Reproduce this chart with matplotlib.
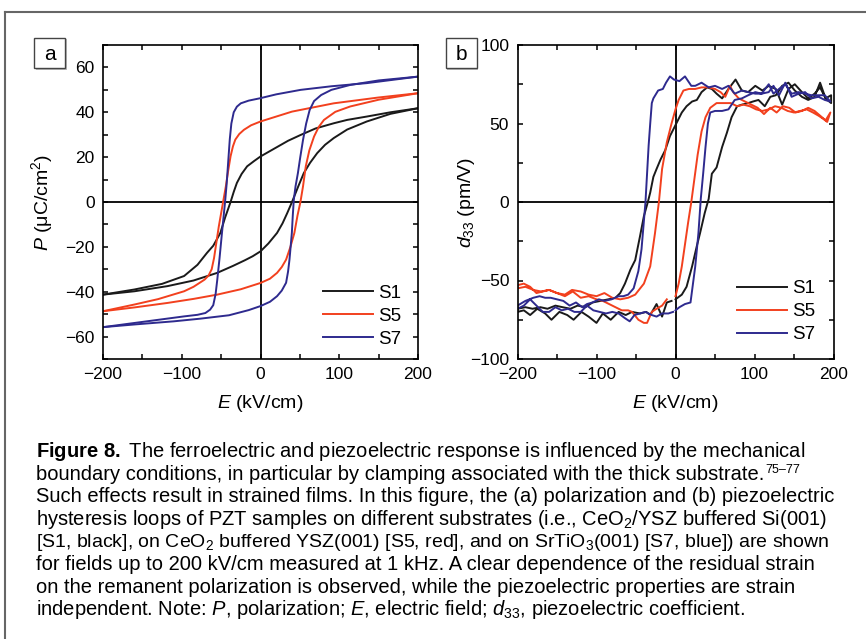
import matplotlib
matplotlib.use('Agg')
import matplotlib.pyplot as plt
from matplotlib.ticker import MultipleLocator
from matplotlib.lines import Line2D
from matplotlib.patches import Rectangle

plt.rcParams['font.family'] = ['Liberation Sans', 'DejaVu Sans']
plt.rcParams['mathtext.fontset'] = 'custom'
plt.rcParams['mathtext.rm'] = 'Liberation Sans'
plt.rcParams['mathtext.it'] = 'Liberation Sans:italic'
plt.rcParams['mathtext.bf'] = 'Liberation Sans:bold'

# ---------------- data: panel a (P-E loops) ----------------
samples = ['S1', 'S5', 'S7']
colors = ['#1a1a1a', '#f2401e', '#2e2a8e']

# upper branch (E sweeping +200 -> -200)
s1_up_E = [200, 165, 135, 110, 93, 70, 51, 35, 20, 10, 0, -8, -17, -24, -30, -34, -38, -42, -45, -51, -56, -60, -68, -80, -97, -125, -160, -200]
s1_up_P = [41.8, 40.0, 38.1, 36.6, 35.1, 32.8, 29.9, 27.3, 24.3, 22.3, 20.3, 18.3, 15.9, 12.5, 8.5, 4.5, 0, -4, -7, -13.8, -17, -19.5, -22.7, -28, -33, -36.5, -39, -41.3]
# lower branch (E sweeping -200 -> +200)
s1_lo_E = [-200, -160, -118, -85, -55, -35, -20, -10, 0, 10, 21, 28, 34, 40, 48, 55, 63, 72, 82, 93, 110, 135, 165, 200]
s1_lo_P = [-41.3, -39.8, -37.5, -35, -31.6, -28.5, -26, -24.2, -22, -18.5, -13.8, -9.5, -4.9, 0, 7, 12.9, 17.5, 21.8, 25.5, 28.5, 32.3, 35.9, 39.3, 41.8]

s5_up_E = [200, 150, 93, 40, 0, -12, -21, -27, -32, -35, -38, -41, -44, -47, -50, -53, -56, -59, -62, -66, -71, -85, -97, -130, -160, -200]
s5_up_P = [48.5, 46.6, 44, 40.3, 35.9, 34.2, 32.2, 30.3, 27.8, 24.8, 20.4, 14, 7, 1, -5, -11, -18, -25, -30, -32.8, -34.6, -37.8, -39.8, -43.3, -45.7, -48.7]
s5_lo_E = [-200, -160, -118, -85, -55, -25, 0, 12, 21, 27, 32.5, 38, 43, 47, 50.7, 54, 57.5, 62, 68, 74, 80.6, 95, 114, 150, 200]
s5_lo_P = [-48.7, -47.0, -45, -43.2, -41.3, -38.9, -36.1, -34.2, -31.6, -29, -25.7, -20, -13.8, -6, 0, 7, 15.9, 23, 29.2, 33.5, 36.6, 40.2, 42.6, 45.6, 48.5]

s7_up_E = [200, 135, 90, 51, 20, 0, -15, -25, -30, -34, -37, -39, -41, -43, -45, -47, -49, -52, -55, -57, -60, -64, -70, -80, -97, -140, -200]
s7_up_P = [55.9, 53, 51.6, 50, 48, 46.3, 45.2, 44, 42.5, 40, 35, 28, 18, 8, 0, -7, -14, -25, -35, -41, -46, -48, -49.5, -50.3, -51, -53, -55.8]
s7_lo_E = [-200, -160, -110, -76, -40, -15, 0, 12, 21, 27, 32.5, 35, 36.8, 38.5, 39.8, 41, 42.3, 44.5, 47.5, 50.5, 54, 58, 62.4, 68, 77, 90, 114, 150, 200]
s7_lo_P = [-55.8, -54.6, -53.2, -52, -50.5, -48.2, -46.4, -44.5, -42, -39.5, -36, -31, -25.7, -19, -13.8, -6, 1, 7, 12.9, 20, 27.7, 35, 41, 45, 47.7, 50, 52.2, 54.2, 55.9]

pe_E_up = [s1_up_E, s5_up_E, s7_up_E]
pe_P_up = [s1_up_P, s5_up_P, s7_up_P]
pe_E_lo = [s1_lo_E, s5_lo_E, s7_lo_E]
pe_P_lo = [s1_lo_P, s5_lo_P, s7_lo_P]

# ---------------- data: panel b (d33-E loops) ----------------
# sweep order: 0 -> +200 -> -200 -> ~0
s1_d_E = [0, 8, 14, 21, 27, 31, 37, 42, 46, 52, 59, 65, 71, 78, 84, 92, 98, 105, 113, 120, 127, 135, 143, 151, 160, 168, 176, 183, 190, 197,
          197, 190, 183, 176, 168, 160, 151, 143, 135, 127, 118, 110, 101, 92, 84, 76, 67, 59, 52, 46, 40, 33, 27, 21, 14, 8, 4, 0,
          -7, -13, -19, -24, -28, -32, -35, -40, -45, -51, -57, -64, -70, -76, -85, -95, -105, -114, -124, -133, -143, -152, -162, -171, -181, -190, -200,
          -200, -192, -184, -175, -165, -157, -147, -137, -129, -119, -110, -100, -92, -82, -72, -63, -55, -45, -37, -32, -24, -17, -11, -5]
s1_d_V = [-62, -59, -54, -41, -28, -20, -7, 2, 18, 22, 35, 44, 54, 61, 62, 63, 64, 65, 61, 67, 68, 74, 76, 71, 67, 65, 67, 76, 66, 68,
          63, 66, 73, 69, 66, 70, 75, 72, 62, 72, 74, 71, 74, 70, 71, 78, 72, 66, 69, 72, 73, 70, 65, 64, 61, 57, 53, 49,
          42, 33, 27, 21, 16, 6, 0, -9, -22, -37, -43, -52, -58, -61, -62, -63, -64, -67, -66, -68, -67, -66, -68, -67, -68, -67, -68,
          -70, -69, -72, -68, -71, -75, -70, -72, -75, -70, -73, -77, -71, -75, -70, -72, -70, -71, -70, -72, -65, -73, -64, -63]

s5_d_E = [0, 4, 8, 12, 16, 20, 24, 28, 33, 38, 44, 52, 62, 70, 78, 86, 94, 102, 110, 118, 126, 134, 142, 150, 158, 166, 174, 181, 187, 192, 196,
          190, 183, 176, 168, 160, 152, 144, 136, 128, 120, 112, 104, 96, 88, 80, 73, 69, 63, 57, 50, 42, 33, 25, 17, 10, 4, 0,
          -5, -11, -17, -21, -26, -32, -40, -51, -60, -70, -80, -90, -100, -110, -120, -131, -140, -150, -160, -170, -180, -190, -200,
          -200, -192, -184, -176, -168, -160, -150, -140, -130, -120, -110, -100, -92, -84, -76, -68, -60, -55, -47, -40, -36, -30, -24, -17, -11]
s5_d_V = [-60, -52, -41, -27, -13, 0, 15, 30, 45, 54, 60, 63, 63, 63, 61, 62, 61, 59, 58, 59, 61, 60, 58, 57, 58, 59, 57, 55, 53, 51, 57,
          52, 55, 58, 60, 58, 57, 60, 61, 57, 60, 56, 60, 62, 64, 66, 70, 74, 67, 70, 72, 73, 73, 72, 72, 71, 65, 59,
          50, 38, 21, 0, -20, -41, -52, -59, -61, -62, -61, -58, -60, -59, -57, -56, -59, -58, -56, -57, -56, -54, -55,
          -53, -52, -54, -58, -57, -56, -58, -60, -57, -61, -60, -62, -63, -65, -67, -69, -69, -70, -75, -77, -77, -70, -68, -66, -62]

s7_d_E = [0, 5, 12, 19, 25, 29, 32, 35, 38, 41, 44, 50, 59, 67, 75, 84, 92, 101, 109, 118, 124, 131, 139, 147, 156, 164, 172, 181, 189, 196,
          189, 181, 172, 164, 156, 147, 139, 131, 124, 118, 109, 101, 92, 84, 75, 67, 59, 50, 42, 33, 25, 20, 12, 5, -2, -7, -12, -16, -22, -28,
          -30, -32, -34, -36, -38, -43, -47, -53, -60, -66, -72, -81, -90, -97, -105, -112, -118, -126, -134, -142, -150, -158, -165, -172, -180, -190, -200,
          -200, -192, -184, -176, -168, -160, -152, -144, -136, -128, -120, -112, -104, -96, -88, -80, -72, -64, -58, -52, -45, -38, -30, -24, -17, -9, -3]
s7_d_V = [-69, -67, -65, -64, -41, -20, 2, 18, 35, 50, 57, 58, 58, 59, 65, 66, 68, 70, 69, 75, 69, 72, 75, 69, 70, 69, 68, 68, 68, 64,
          65, 67, 66, 70, 69, 67, 76, 68, 74, 70, 69, 69, 70, 71, 69, 74, 72, 74, 73, 76, 74, 74, 80, 77, 78, 80, 76, 72, 71, 66,
          63, 50, 36, 18, 0, -30, -44, -55, -59, -60, -60, -62, -63, -62, -64, -65, -67, -64, -66, -63, -62, -61, -61, -60, -61, -63, -66,
          -68, -66, -62, -66, -70, -70, -67, -69, -68, -70, -70, -66, -69, -70, -71, -70, -71, -74, -76, -72, -71, -70, -72, -73, -71, -71, -70]

d_E = [s1_d_E, s5_d_E, s7_d_E]
d_V = [s1_d_V, s5_d_V, s7_d_V]

caption_lines = [
    r"$\mathbf{Figure\ 8.}$ The ferroelectric and piezoelectric response is influenced by the mechanical",
    "boundary conditions, in particular by clamping associated with the thick substrate.",
    "Such effects result in strained films. In this figure, the (a) polarization and (b) piezoelectric",
    r"hysteresis loops of PZT samples on different substrates (i.e., CeO$_{2}$/YSZ buffered Si(001)",
    r"[S1, black], on CeO$_{2}$ buffered YSZ(001) [S5, red], and on SrTiO$_{3}$(001) [S7, blue]) are shown",
    "for fields up to 200 kV/cm measured at 1 kHz. A clear dependence of the residual strain",
    "on the remanent polarization is observed, while the piezoelectric properties are strain",
    r"independent. Note: $\mathit{P}$, polarization; $\mathit{E}$, electric field; $\mathit{d}_{33}$, piezoelectric coefficient.",
]
caption_sizes = [14.5, 14.5, 14.5, 14.5, 14.0, 14.5, 14.5, 14.5]
ref_superscript = "75–77"

# ---------------- figure ----------------
W, H = 866, 639
fig = plt.figure(figsize=(W / 100, H / 100), dpi=100)

def fx(px):
    return px / W

def fy(py):
    return 1 - py / H

axa = fig.add_axes([fx(103), fy(359), fx(418) - fx(103), fy(45) - fy(359)])
axb = fig.add_axes([fx(517.5), fy(359), fx(833.5) - fx(517.5), fy(45) - fy(359)])

LW = 1.4
TFS = 12.5
LFS = 14
GFS = 13.5

for i in range(3):
    axa.plot(pe_E_up[i], pe_P_up[i], color=colors[i], lw=LW, label=samples[i])
    axa.plot(pe_E_lo[i], pe_P_lo[i], color=colors[i], lw=LW)
    axb.plot(d_E[i], d_V[i], color=colors[i], lw=LW, label=samples[i])

axa.set_xlim(-200, 200)
axa.set_ylim(-70, 70)
axa.xaxis.set_major_locator(MultipleLocator(100))
axa.xaxis.set_minor_locator(MultipleLocator(50))
axa.yaxis.set_major_locator(MultipleLocator(20))
axa.yaxis.set_minor_locator(MultipleLocator(10))

axb.set_xlim(-200, 200)
axb.set_ylim(-100, 100)
axb.xaxis.set_major_locator(MultipleLocator(100))
axb.xaxis.set_minor_locator(MultipleLocator(50))
axb.yaxis.set_major_locator(MultipleLocator(50))
axb.yaxis.set_minor_locator(MultipleLocator(25))

for ax, anchor in ((axa, (0.972, 0.011)), (axb, (0.966, 0.026))):
    ax.axhline(0, color='black', lw=1.3, zorder=1)
    ax.axvline(0, color='black', lw=1.3, zorder=1)
    for s in ax.spines.values():
        s.set_linewidth(1.2)
    ax.tick_params(which='both', direction='in', top=True, right=True, length=3.5, width=1.1,
                   labelsize=TFS, pad=6)
    ax.set_xlabel(r'$\mathit{E}$ (kV/cm)', fontsize=LFS, labelpad=8)
    ax.legend(loc='lower right', frameon=False, fontsize=GFS, handlelength=2.67,
              handletextpad=0.27, labelspacing=0.32, borderaxespad=0.0,
              bbox_to_anchor=anchor)

axa.set_ylabel(r'$\mathit{P}$ ($\mathrm{\mu}$C/cm$^{2}$)', fontsize=LFS)
axb.set_ylabel(r'$\mathit{d}_{33}$ (pm/V)', fontsize=LFS)
axa.yaxis.set_label_coords(-0.152, 0.5)
axb.yaxis.set_label_coords(-0.128, 0.5)

# panel labels in boxes
for (x0, lab) in [(34, 'a'), (446, 'b')]:
    fig.patches.append(Rectangle((fx(x0 + 1.5), fy(69.5)), fx(31), fy(38) - fy(68), transform=fig.transFigure,
                                 facecolor='#bbbbbb', edgecolor='none', zorder=1))
    fig.patches.append(Rectangle((fx(x0), fy(68)), fx(31), fy(38) - fy(68), transform=fig.transFigure,
                                 facecolor='white', edgecolor='#444444', lw=1.0, zorder=2))
    fig.text(fx(x0 + 15.5), fy(54), lab, ha='center', va='center', fontsize=15, zorder=3)

# outer frame lines
fig.add_artist(Line2D([fx(5), 1.0], [fy(12), fy(12)], transform=fig.transFigure, color='#666666', lw=1.5))
fig.add_artist(Line2D([fx(5), fx(5)], [fy(12), 0.0], transform=fig.transFigure, color='#666666', lw=1.5))

# caption
cap_texts = []
for k, line in enumerate(caption_lines):
    t = fig.text(fx(36), fy(457 + 22.6 * k), line, ha='left', va='baseline', fontsize=caption_sizes[k])
    cap_texts.append(t)

renderer = fig.canvas.get_renderer()
ext = cap_texts[1].get_window_extent(renderer=renderer)
fig.text((ext.x1 + 0.5) / W, fy(457 + 22.6 - 7), ref_superscript, ha='left', va='baseline', fontsize=9)

fig.savefig('out.png', dpi=100)
